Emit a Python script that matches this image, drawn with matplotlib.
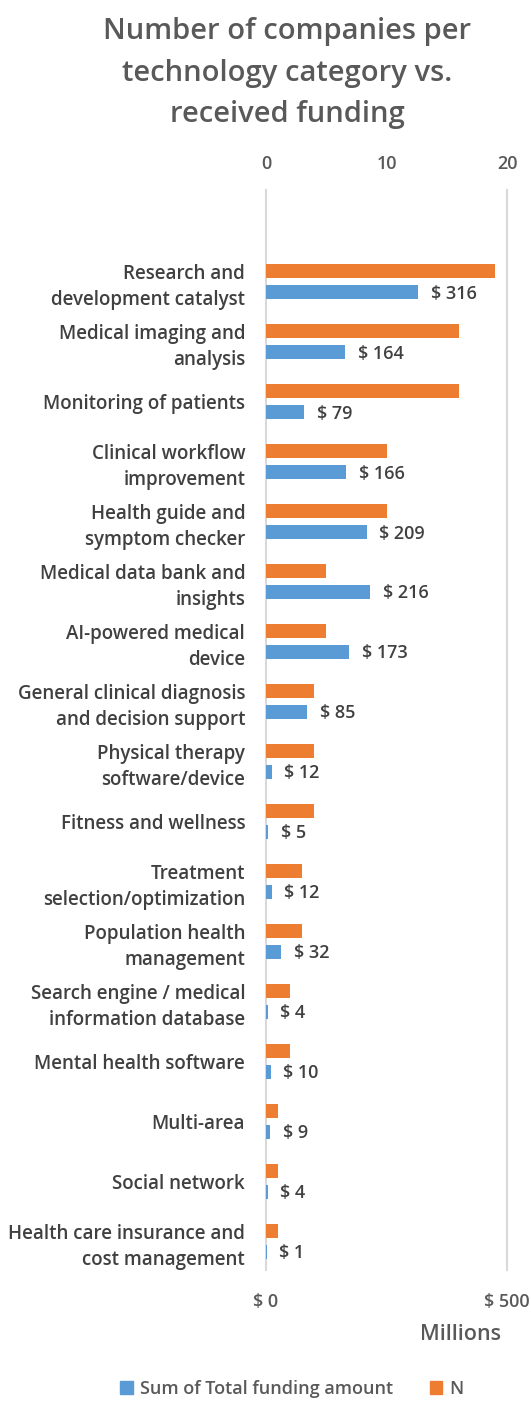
"""
Companies per technology category vs. received funding (horizontal bars, two x axes).
"""
import matplotlib
matplotlib.use("Agg")
import matplotlib.pyplot as plt
from matplotlib import font_manager as fm
from matplotlib.patches import Patch


def pick_font(filename):
    # static Open Sans file by name (the family also ships condensed/variable files)
    for f in fm.fontManager.ttflist:
        if f.fname.endswith(filename):
            return fm.FontProperties(fname=f.fname)
    return fm.FontProperties(family="DejaVu Sans", weight="bold")


categories = [
    "Research and\ndevelopment catalyst",
    "Medical imaging and\nanalysis",
    "Monitoring of patients",
    "Clinical workflow\nimprovement",
    "Health guide and\nsymptom checker",
    "Medical data bank and\ninsights",
    "AI-powered medical\ndevice",
    "General clinical diagnosis\nand decision support",
    "Physical therapy\nsoftware/device",
    "Fitness and wellness",
    "Treatment\nselection/optimization",
    "Population health\nmanagement",
    "Search engine / medical\ninformation database",
    "Mental health software",
    "Multi-area",
    "Social network",
    "Health care insurance and\ncost management",
]
funding_millions = [316, 164, 79, 166, 209, 216, 173, 85, 12, 5, 12, 32, 4, 10, 9, 4, 1]
n_companies = [19, 16, 16, 10, 10, 5, 5, 4, 4, 4, 3, 3, 2, 2, 1, 1, 1]
funding_ticks = [0, 500]
funding_tick_labels = ["$ 0", "$ 500"]
n_ticks = [0, 10, 20]

BLUE = "#5B9BD5"
ORANGE = "#ED7D31"
TEXT = "#595959"
LABEL = "#404040"
GRID = "#D9D9D9"

base = pick_font("OpenSans-Semibold.ttf")


def fp(size):
    p = base.copy()
    p.set_size(size)
    return p


fig = plt.figure(figsize=(5.31, 14.02), dpi=100)
ax = fig.add_axes([0.501, 0.0945, 0.454, 0.77])
ax_n = ax.twiny()

pos = list(range(len(categories)))
off = 0.175
h = 0.24

ax.barh([p + off for p in pos], funding_millions, height=h, color=BLUE, zorder=3)
ax_n.barh([p - off for p in pos], n_companies, height=h, color=ORANGE, zorder=3)

for p, v in zip(pos, funding_millions):
    ax.annotate(f"$ {v}", xy=(v, p + off), xytext=(9, -1), textcoords="offset points",
                ha="left", va="center", fontproperties=fp(13), color=LABEL)

ax.set_xlim(0, 500)
ax_n.set_xlim(0, 20)
ax.set_ylim(16.47, -1.53)
ax_n.set_ylim(16.47, -1.53)

ax.set_xticks(funding_ticks)
ax.set_xticklabels(funding_tick_labels, fontproperties=fp(13), color=TEXT)
ax_n.set_xticks(n_ticks)
ax_n.set_xticklabels([str(t) for t in n_ticks], fontproperties=fp(13), color=TEXT)

ax.set_yticks(pos)
ax.set_yticklabels(categories, fontproperties=fp(13.5), color=LABEL, linespacing=1.4)
ax.tick_params(axis="y", length=0, pad=15)
ax.tick_params(axis="x", length=0, pad=17)
ax_n.tick_params(axis="x", length=0, pad=12)

ax.grid(axis="x", color=GRID, linewidth=1.5, zorder=0)
ax.grid(axis="y", visible=False)
ax_n.grid(False)
for line in ax.get_xgridlines():
    line.set_clip_on(False)
for a in (ax, ax_n):
    for s in a.spines.values():
        s.set_visible(False)

fig.text(0.541, 1 - 73 / 1402, "Number of companies per\ntechnology category vs.\nreceived funding",
         ha="center", va="center", fontproperties=fp(21), color=TEXT, linespacing=1.55)
fig.text(460 / 531, 1 - 1335 / 1402, "Millions", ha="center", va="center",
         fontproperties=fp(15.5), color=TEXT)

handles = [Patch(color=BLUE, label="Sum of Total funding amount"),
           Patch(color=ORANGE, label="N")]
leg = fig.legend(handles=handles, loc="center", bbox_to_anchor=(0.55, 0.0095), ncol=2,
                 frameon=False, prop=fp(13), handlelength=0.7, handleheight=0.7,
                 handletextpad=0.4, columnspacing=2.0)
for t in leg.get_texts():
    t.set_color(TEXT)

fig.savefig("out.png", dpi=100)
